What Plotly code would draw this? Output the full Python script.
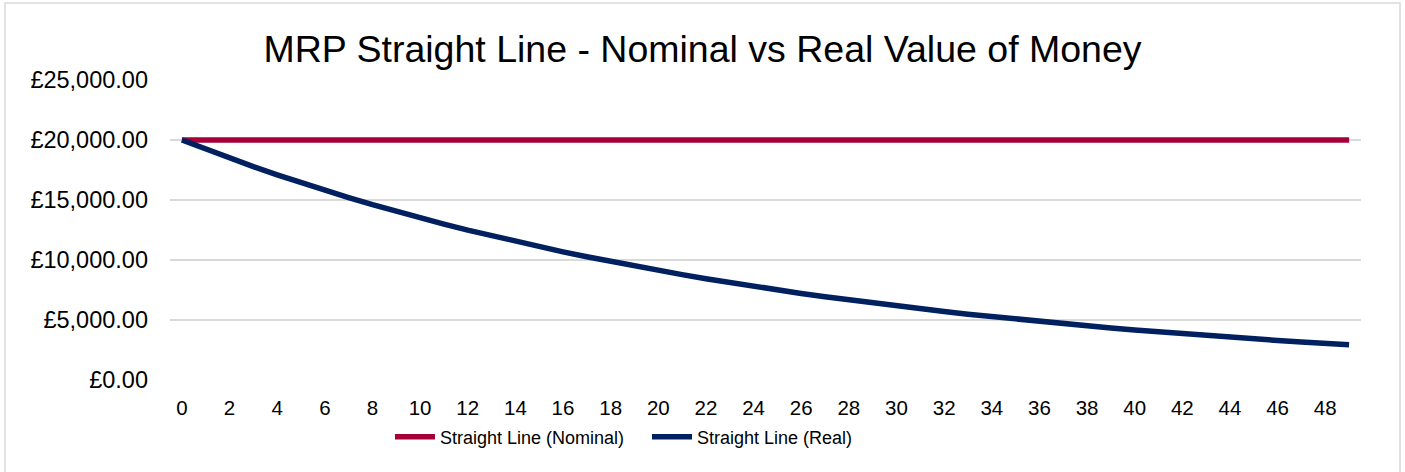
import plotly.graph_objects as go

years = list(range(0, 50))
nominal = [20000] * 50
real = [20000, 19230, 18490, 17780, 17100, 16440, 15810, 15200, 14610, 14050,
        13510, 12990, 12490, 12010, 11550, 11100, 10680, 10270, 9870, 9490,
        9130, 8780, 8440, 8110, 7800, 7500, 7210, 6940, 6670, 6410,
        6170, 5930, 5700, 5480, 5270, 5070, 4870, 4690, 4510, 4330,
        4170, 4010, 3850, 3700, 3560, 3420, 3290, 3170, 3040, 2930]
series_names = ["Straight Line (Nominal)", "Straight Line (Real)"]
title_text = "MRP Straight Line - Nominal vs Real Value of Money"

W, H = 1405, 472
L, R, T, B = 170, 44, 80, 92
pw, ph = W - L - R, H - T - B

fig = go.Figure()
fig.add_trace(go.Scatter(x=years, y=nominal, mode="lines", name=series_names[0],
                         line=dict(color="#A50038", width=5.5)))
fig.add_trace(go.Scatter(x=years, y=real, mode="lines", name=series_names[1],
                         line=dict(color="#002060", width=5.5)))

def px_x(p):
    return (p - L) / pw

def px_y(p):
    return (H - B - p) / ph

fig.update_layout(
    width=W, height=H,
    margin=dict(l=L, r=R, t=T, b=B, autoexpand=False),
    paper_bgcolor="white", plot_bgcolor="white",
    font=dict(family="Liberation Sans, Arial, sans-serif", color="#000000"),
    title=dict(text=title_text, x=0.5, xref="container", xanchor="center",
               y=1 - 48.5 / H, yref="container", yanchor="middle",
               font=dict(size=37.5, color="#000000")),
    showlegend=True,
    legend=dict(orientation="h", x=px_x(390), xanchor="left", xref="paper",
                y=px_y(437), yanchor="middle", font=dict(size=18),
                itemwidth=40, entrywidth=202, entrywidthmode="pixels",
                bgcolor="rgba(0,0,0,0)", tracegroupgap=0),
    xaxis=dict(range=[-0.5, 49.5], tickmode="array", tickvals=years[::2],
               ticktext=[str(v) for v in years[::2]], showgrid=False,
               zeroline=False, showline=False, ticks="",
               tickfont=dict(size=20.5), ticklabelstandoff=13, fixedrange=True),
    yaxis=dict(range=[0, 25000], dtick=5000, tickprefix="£", tickformat=",.2f",
               showgrid=True, gridcolor="#D9D9D9", gridwidth=1.5,
               zeroline=False, showline=False, ticks="",
               tickfont=dict(size=23.5), ticklabelstandoff=21, fixedrange=True),
    shapes=[dict(type="rect", xref="paper", yref="paper",
                 x0=px_x(5), x1=px_x(1400), y0=px_y(476), y1=px_y(3),
                 line=dict(color="#D9D9D9", width=1.5), fillcolor="rgba(0,0,0,0)",
                 layer="below")],
)

fig.write_html("out.html", config={"displayModeBar": False},
               post_script="document.body.style.margin='0';document.body.style.overflow='hidden';")
